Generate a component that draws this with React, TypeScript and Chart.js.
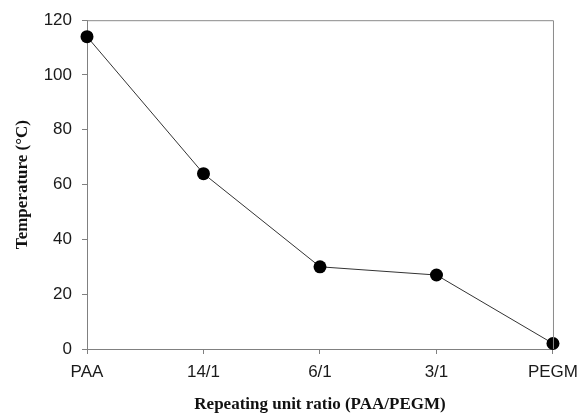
import React, { useEffect, useRef } from "react";
import { Chart, registerables } from "chart.js";

Chart.register(...registerables);

const categories = ["PAA", "14/1", "6/1", "3/1", "PEGM"];
const temperatures = [114, 64, 30, 27, 2];
const yTicks = { min: 0, max: 120, step: 20 };

const framePlugin = {
  id: "frame",
  afterDatasetsDraw(chart: any) {
    const { ctx, chartArea } = chart;
    ctx.save();
    ctx.strokeStyle = "#8a8a8a";
    ctx.lineWidth = 1;
    ctx.beginPath();
    ctx.moveTo(chartArea.left, chartArea.top + 0.5);
    ctx.lineTo(chartArea.right + 0.5, chartArea.top + 0.5);
    ctx.lineTo(chartArea.right + 0.5, chartArea.bottom);
    ctx.stroke();
    ctx.restore();
  },
};

export default function App() {
  const ref = useRef<HTMLCanvasElement>(null);
  useEffect(() => {
    if (!ref.current) return;
    const chart = new Chart(ref.current, {
      type: "line",
      data: {
        labels: categories,
        datasets: [
          {
            data: temperatures,
            borderColor: "#333333",
            borderWidth: 1,
            pointRadius: 6.5,
            pointBackgroundColor: "#000000",
            pointBorderColor: "#000000",
            pointBorderWidth: 0,
            tension: 0,
            clip: false as any,
          },
        ],
      },
      options: {
        animation: false,
        responsive: false,
        events: [],
        layout: { padding: { left: 0, right: 29, top: 19, bottom: 0 } },
        plugins: { legend: { display: false }, tooltip: { enabled: false } },
        scales: {
          x: {
            type: "category",
            offset: false,
            afterFit: (s: any) => {
              s.height = 66;
            },
            grid: {
              offset: false,
              drawOnChartArea: false,
              drawTicks: true,
              tickLength: 5,
              color: "#808080",
            },
            border: { display: true, color: "#808080" },
            ticks: {
              padding: 8,
              color: "#1a1a1a",
              font: { family: "'Liberation Sans', Arial, sans-serif", size: 17 },
              maxRotation: 0,
            },
            title: {
              display: true,
              text: "Repeating unit ratio (PAA/PEGM)",
              color: "#111111",
              padding: { top: 0, bottom: 0 },
              font: { family: "'Liberation Serif', 'Times New Roman', serif", size: 17, weight: "bold" },
            },
          },
          y: {
            min: yTicks.min,
            max: yTicks.max,
            afterFit: (s: any) => {
              s.width = 87;
            },
            grid: {
              drawOnChartArea: false,
              drawTicks: true,
              tickLength: 5,
              color: "#808080",
            },
            border: { display: true, color: "#808080" },
            ticks: {
              stepSize: yTicks.step,
              padding: 10,
              color: "#1a1a1a",
              font: { family: "'Liberation Sans', Arial, sans-serif", size: 17 },
            },
            title: {
              display: true,
              text: "Temperature (°C)",
              color: "#111111",
              padding: { top: 12, bottom: 0 },
              font: { family: "'Liberation Serif', 'Times New Roman', serif", size: 17, weight: "bold" },
            },
          },
        },
      },
      plugins: [framePlugin],
    });
    return () => chart.destroy();
  }, []);
  return (
    <div style={{ position: "absolute", left: 0, top: 0, width: 586, height: 415, background: "#fff" }}>
      <canvas ref={ref} width={586} height={415} />
    </div>
  );
}
